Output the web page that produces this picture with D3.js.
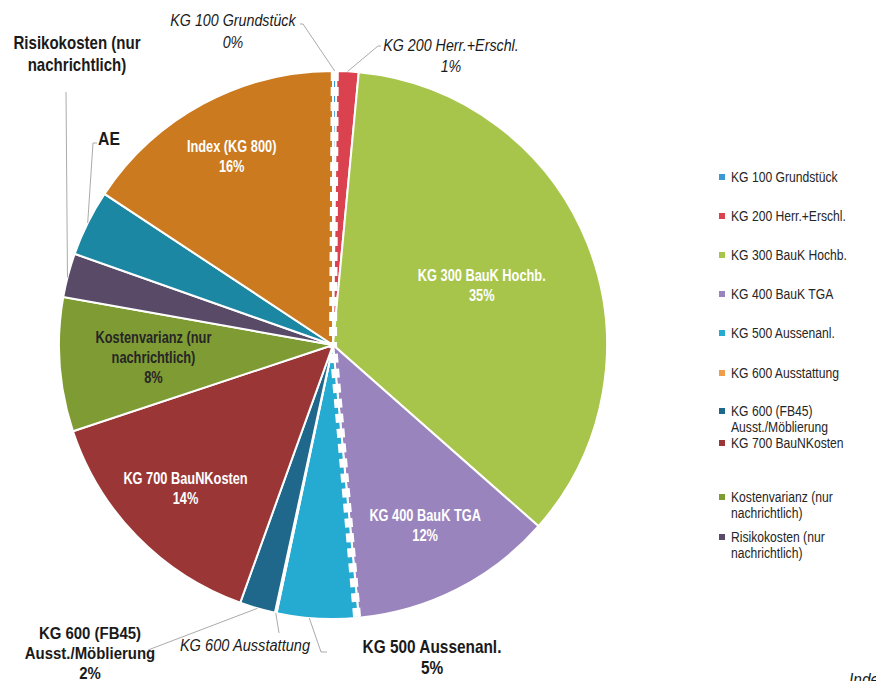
<!DOCTYPE html>
<html>
<head>
<meta charset="utf-8">
<script src="https://cdn.jsdelivr.net/npm/d3@7"></script>
<style>
  html, body { margin: 0; padding: 0; background: #fff; }
  svg { display: block; }
  text { font-family: "Liberation Sans", Arial, sans-serif; }
</style>
</head>
<body>
<svg id="chart" width="876" height="681"></svg>
<script>
// ---- data ----
const categories = [
  "KG 100 Grundstück",
  "KG 200 Herr.+Erschl.",
  "KG 300 BauK Hochb.",
  "KG 400 BauK TGA",
  "KG 500 Aussenanl.",
  "KG 600 Ausstattung",
  "KG 600 (FB45) Ausst./Möblierung",
  "KG 700 BauNKosten",
  "Kostenvarianz  (nur nachrichtlich)",
  "Risikokosten (nur nachrichtlich)",
  "AE",
  "Index (KG 800)"
];
const values = [0.2, 1.3, 35.0, 12.0, 4.8, 0.1, 2.1, 14.4, 7.9, 2.6, 3.9, 15.7];
const percentLabels = ["0%", "1%", "35%", "12%", "5%", "", "2%", "14%", "8%", "", "", "16%"];
const colors = ["#3a98d2", "#d9424e", "#a8c54b", "#9a84bd", "#25abd2", "#ef9d4a",
                "#1f688c", "#9b3636", "#7f9b33", "#594b68", "#1b87a2", "#cb7a1f"];
const legendItems = [
  ["KG 100 Grundstück"],
  ["KG 200 Herr.+Erschl."],
  ["KG 300 BauK Hochb."],
  ["KG 400 BauK TGA"],
  ["KG 500 Aussenanl."],
  ["KG 600 Ausstattung"],
  ["KG 600 (FB45)", "Ausst./Möblierung"],
  ["KG 700 BauNKosten"],
  ["Kostenvarianz  (nur", "nachrichtlich)"],
  ["Risikokosten (nur", "nachrichtlich)"]
];

// ---- layout ----
const svg = d3.select("#chart");
const cx = 333, cy = 345, R = 274;
const g = svg.append("g").attr("transform", `translate(${cx},${cy})`);

function condense(sel, x, s) {
  sel.attr("transform", `translate(${x},0) scale(${s},1) translate(${-x},0)`);
}

const pie = d3.pie().sort(null).value(d => d)(values);
const arc = d3.arc().innerRadius(0).outerRadius(R);

g.selectAll("path.slice")
  .data(pie)
  .join("path")
  .attr("class", "slice")
  .attr("d", arc)
  .attr("fill", (d, i) => colors[i])
  .attr("stroke", "#fff")
  .attr("stroke-width", 2);

// dashed white boundary lines (KG100/KG200 and KG400/KG500)
function polar(angle, r) { return [Math.sin(angle) * r, -Math.cos(angle) * r]; }
[[pie[0].endAngle, 1], [pie[3].endAngle, -1]].forEach(([a, side]) => {
  const off = side * 0.006;
  const p1 = polar(a - off, R - 1), p0 = polar(a - off, 0);
  g.append("line")
    .attr("x1", p1[0]).attr("y1", p1[1]).attr("x2", p0[0]).attr("y2", p0[1])
    .attr("stroke", "#fff").attr("stroke-width", 8)
    .attr("stroke-dasharray", "9,6");
});

// inside labels
const insideRadius = {2: 160, 3: 203, 7: 206, 8: 180, 11: 214};
const insideText = {
  2: ["KG 300 BauK Hochb."],
  3: ["KG 400 BauK TGA"],
  7: ["KG 700 BauNKosten"],
  8: ["Kostenvarianz  (nur", "nachrichtlich)"],
  11: ["Index (KG 800)"]
};
Object.keys(insideText).forEach(k => {
  const i = +k, d = pie[i];
  const mid = (d.startAngle + d.endAngle) / 2;
  const [x, y] = polar(mid, insideRadius[i]);
  const lines = insideText[i].concat([percentLabels[i]]);
  const lh = 20;
  const t = g.append("text")
    .attr("text-anchor", "middle")
    .attr("font-weight", "bold")
    .attr("font-size", 16)
    .attr("fill", i === 8 ? "#262626" : "#fff");
  condense(t, x, 0.8);
  lines.forEach((s, j) => {
    t.append("tspan").attr("x", x).attr("y", y + (j - (lines.length - 1) / 2) * lh + 5).text(s);
  });
});

// outside labels with leader lines
const leaderColor = "#a0a0a0";
function leader(points) {
  svg.append("polyline")
    .attr("points", points.map(p => p.join(",")).join(" "))
    .attr("fill", "none").attr("stroke", leaderColor).attr("stroke-width", 0.9);
}
function label(x, y, lines, opts) {
  const t = svg.append("text")
    .attr("text-anchor", "middle")
    .attr("font-size", opts.size)
    .attr("font-weight", opts.bold ? "bold" : "normal")
    .attr("font-style", opts.italic ? "italic" : "normal")
    .attr("fill", "#1a1a1a");
  condense(t, x, opts.scale);
  lines.forEach((s, j) => t.append("tspan").attr("x", x).attr("y", y + j * opts.lh).text(s));
}
function edgePoint(i, frac) {
  const d = pie[i];
  const a = d.startAngle + (d.endAngle - d.startAngle) * frac;
  const p = polar(a, R);
  return [cx + p[0], cy + p[1]];
}

// KG 100
label(233, 26, [categories[0], percentLabels[0]], {size: 17, italic: true, lh: 22, scale: 0.84});
leader([[300, 24], [303, 24], edgePoint(0, 0.5)]);
// KG 200
label(451, 51, [categories[1], percentLabels[1]], {size: 17, italic: true, lh: 21, scale: 0.84});
leader([[381, 46], [378, 46], edgePoint(1, 0.5)]);
// Risikokosten
label(77, 49, ["Risikokosten (nur", "nachrichtlich)"], {size: 17.5, bold: true, lh: 22, scale: 0.86});
leader([[66, 92], edgePoint(9, 0.45)]);
// AE
label(109, 145, ["AE"], {size: 17.5, bold: true, lh: 22, scale: 0.9});
leader([[97, 143], [93, 143], edgePoint(10, 0.5)]);
// KG 600 (FB45)
label(90, 639, ["KG 600 (FB45)", "Ausst./Möblierung", percentLabels[6]], {size: 17, bold: true, lh: 20, scale: 0.88});
leader([[148, 650], edgePoint(6, 0.5)]);
// KG 600 Ausstattung
label(245, 651, [categories[5]], {size: 17, italic: true, lh: 21, scale: 0.86});
leader([edgePoint(5, 0.5), [279, 633]]);
// KG 500
label(432, 653, [categories[4], percentLabels[4]], {size: 17.5, bold: true, lh: 21, scale: 0.88});
leader([edgePoint(4, 0.6), [321, 652], [327, 652]]);

// partial text at the bottom right (cut off by the page edge, as in the original)
const idx = svg.append("text").attr("x", 849).attr("y", 686)
  .attr("font-size", 18).attr("font-style", "italic").attr("fill", "#1a1a1a").text("Index");
condense(idx, 849, 0.86);

// legend
const legendRows = [177, 216, 255, 294, 333, 373, 411, 443, 497, 537];
const lg = svg.append("g");
legendItems.forEach((lines, i) => {
  const y = legendRows[i];
  lg.append("rect").attr("x", 719).attr("y", y - 3).attr("width", 6).attr("height", 6)
    .attr("fill", colors[i]);
  const t = lg.append("text").attr("font-size", 15).attr("fill", "#262626");
  condense(t, 731, 0.81);
  lines.forEach((s, j) => t.append("tspan").attr("x", 731).attr("y", y + 5 + j * 16).text(s));
});
</script>
</body>
</html>
